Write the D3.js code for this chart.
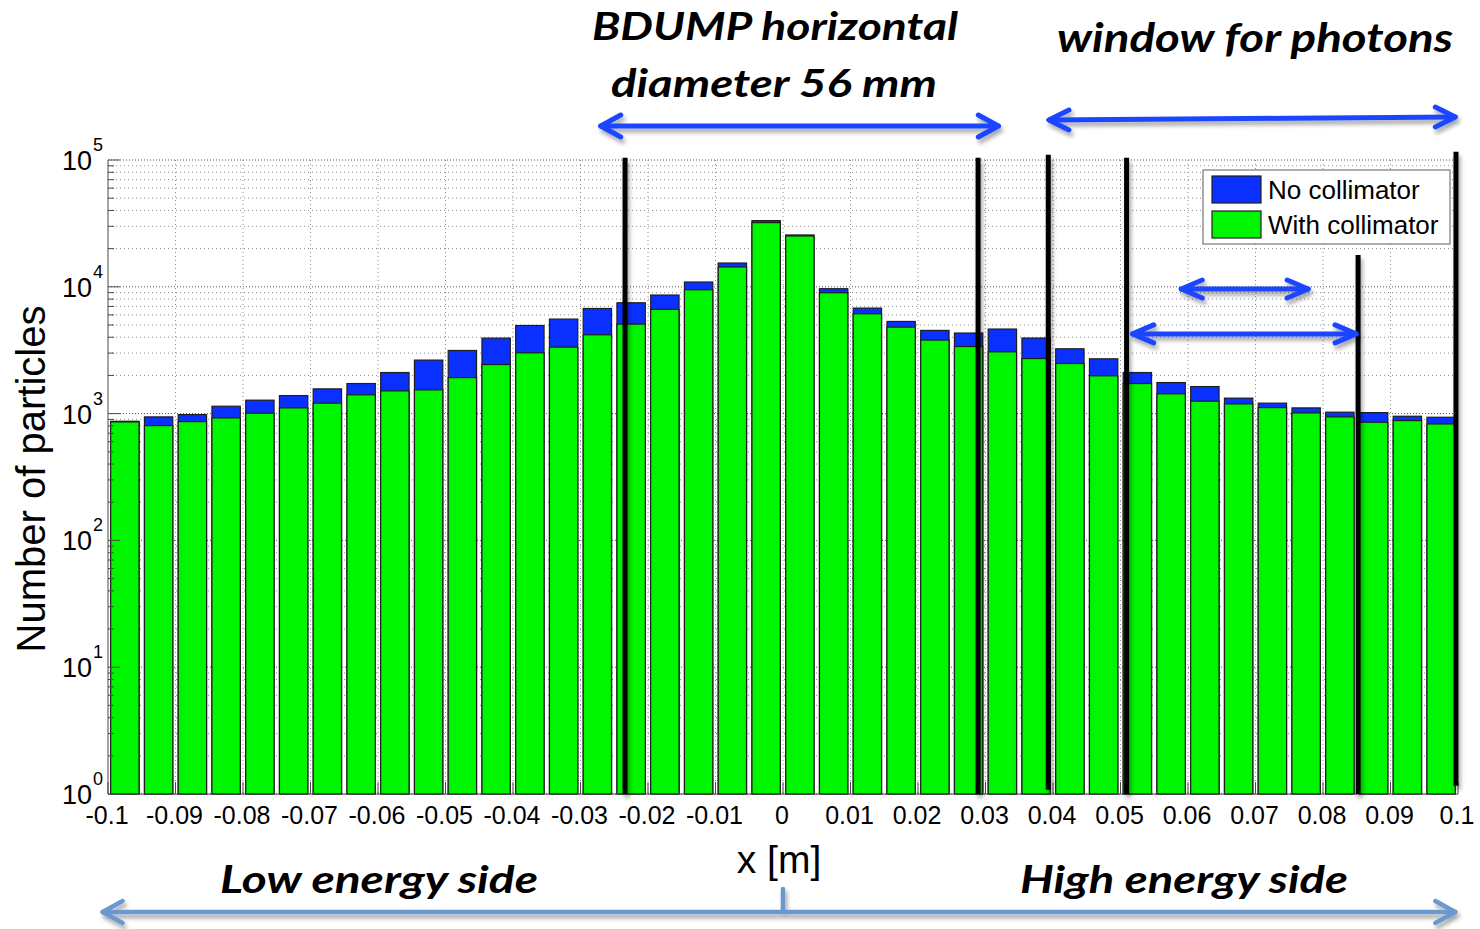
<!DOCTYPE html>
<html>
<head>
<meta charset="utf-8">
<script src="https://cdn.jsdelivr.net/npm/d3@7"></script>
<style>
  html, body { margin: 0; padding: 0; background: #fff; }
  svg { display: block; }
</style>
</head>
<body>
<svg id="chart" width="1480" height="929"></svg>
<script>
// Horizontal bins (bin centres, m)
const binCenters = [
  -0.0975, -0.0925, -0.0875, -0.0825, -0.0775, -0.0725, -0.0675, -0.0625, -0.0575, -0.0525,
  -0.0475, -0.0425, -0.0375, -0.0325, -0.0275, -0.0225, -0.0175, -0.0125, -0.0075, -0.0025,
   0.0025,  0.0075,  0.0125,  0.0175,  0.0225,  0.0275,  0.0325,  0.0375,  0.0425,  0.0475,
   0.0525,  0.0575,  0.0625,  0.0675,  0.0725,  0.0775,  0.0825,  0.0875,  0.0925,  0.0975
];
const binWidth = 0.005;

// Particle counts per bin
const noCollimator = [
   870,   942,   982,  1143,  1276,  1387,  1567,  1726,  2108,  2642,
  3147,  3939,  4954,  5563,  6745,  7483,  8610, 10910, 15400, 33270,
 25630,  9660,  6790,  5330,  4530,  4320,  4643,  3945,  3245,  2704,
  2108,  1758,  1634,  1324,  1209,  1109,  1026,  1018,   953,   936
];
const withCollimator = [
   860,   804,   865,   925,  1007,  1109,  1209,  1406,  1511,  1539,
  1923,  2437,  3015,  3345,  4185,  5079,  6633,  9485, 14330, 32060,
 25160,  8980,  6130,  4810,  3800,  3380,  3070,  2717,  2484,  1986,
  1726,  1432,  1253,  1193,  1115,  1013,   942,   855,   881,   829
];
const seriesNames = ["No collimator", "With collimator"];

// Axis ticks
const xTickValues = [-0.1, -0.09, -0.08, -0.07, -0.06, -0.05, -0.04, -0.03, -0.02, -0.01,
                     0, 0.01, 0.02, 0.03, 0.04, 0.05, 0.06, 0.07, 0.08, 0.09, 0.1];
const xTickLabels = ["-0.1", "-0.09", "-0.08", "-0.07", "-0.06", "-0.05", "-0.04", "-0.03", "-0.02", "-0.01",
                     "0", "0.01", "0.02", "0.03", "0.04", "0.05", "0.06", "0.07", "0.08", "0.09", "0.1"];
const yDecadeExponents = [0, 1, 2, 3, 4, 5];

// Vertical marker lines: x position (m), top and bottom (counts)
const markerX      = [-0.0234, 0.0289, 0.0393, 0.0509, 0.0852, 0.0997];
const markerTop    = [1.04e5, 1.04e5, 1.1e5, 1.04e5, 1.78e4, 1.16e5];
const markerBottom = [1.0, 1.0, 1.08, 1.0, 1.0, 1.16];

const BAR_BLUE = "#0a30ff";
const BAR_GREEN = "#00f500";
const ARROW_BLUE = "#1c45ff";
const STEEL = "#6a98cf";

const svg = d3.select("#chart");
const plot = { left: 108, right: 1458, top: 160, bottom: 794 };

const x = d3.scaleLinear().domain([-0.1, 0.1]).range([plot.left, plot.right]);
const y = d3.scaleLog().domain([1, 1e5]).range([plot.bottom, plot.top]);

// drop-shadow used for the overlaid annotations
const defs = svg.append("defs");
const sh = defs.append("filter").attr("id", "shadow")
  .attr("x", "-10%").attr("y", "-60%").attr("width", "130%").attr("height", "260%");
sh.append("feDropShadow").attr("dx", 2).attr("dy", 4).attr("stdDeviation", 2.2)
  .attr("flood-color", "#000").attr("flood-opacity", 0.35);

// ---- grid ----
const grid = svg.append("g");
const minorVals = [];
for (let e = 0; e < 5; e++) for (let m = 2; m <= 9; m++) minorVals.push(m * Math.pow(10, e));
grid.selectAll("line.minor").data(minorVals).join("line")
  .attr("x1", plot.left).attr("x2", plot.right)
  .attr("y1", d => y(d)).attr("y2", d => y(d))
  .attr("stroke", "#8a8a8a").attr("stroke-width", 1).attr("stroke-dasharray", "1,3");
grid.selectAll("line.major").data(yDecadeExponents).join("line")
  .attr("x1", plot.left).attr("x2", plot.right)
  .attr("y1", d => y(Math.pow(10, d))).attr("y2", d => y(Math.pow(10, d)))
  .attr("stroke", "#555").attr("stroke-width", 1).attr("stroke-dasharray", "1,2");
grid.selectAll("line.vx").data(xTickValues.slice(1, -1)).join("line")
  .attr("x1", d => x(d)).attr("x2", d => x(d))
  .attr("y1", plot.top).attr("y2", plot.bottom)
  .attr("stroke", "#8a8a8a").attr("stroke-width", 1).attr("stroke-dasharray", "1,3");

// ---- bars (overlaid) ----
const halfW = binWidth * 0.42;
const bars = svg.append("g");
function drawSeries(vals, color) {
  bars.append("g").selectAll("rect").data(vals).join("rect")
    .attr("x", (d, i) => x(binCenters[i] - halfW))
    .attr("width", (d, i) => x(binCenters[i] + halfW) - x(binCenters[i] - halfW))
    .attr("y", d => y(d))
    .attr("height", d => y(1) - y(d))
    .attr("fill", color)
    .attr("stroke", "#1e1e1e").attr("stroke-width", 1.2);
}
drawSeries(noCollimator, BAR_BLUE);
drawSeries(withCollimator, BAR_GREEN);

// ---- axes ----
const axes = svg.append("g").attr("stroke", "#4a4a4a").attr("stroke-width", 1);
axes.append("line").attr("x1", plot.left).attr("x2", plot.left).attr("y1", plot.top).attr("y2", plot.bottom);
axes.append("line").attr("x1", plot.left).attr("x2", plot.right).attr("y1", plot.bottom).attr("y2", plot.bottom);
axes.selectAll("line.yt").data(yDecadeExponents).join("line")
  .attr("x1", plot.left).attr("x2", plot.left + 12)
  .attr("y1", d => y(Math.pow(10, d))).attr("y2", d => y(Math.pow(10, d)));
axes.selectAll("line.ym").data(minorVals).join("line")
  .attr("x1", plot.left).attr("x2", plot.left + 6)
  .attr("y1", d => y(d)).attr("y2", d => y(d));
axes.selectAll("line.xt").data(xTickValues).join("line")
  .attr("x1", d => x(d)).attr("x2", d => x(d))
  .attr("y1", plot.bottom).attr("y2", plot.bottom - 12);

// tick labels
const lbl = svg.append("g").attr("font-family", "'Liberation Sans', Arial, sans-serif").attr("fill", "#000");
lbl.selectAll("text.xl").data(xTickValues).join("text")
  .attr("x", d => x(d) - 1).attr("y", 824)
  .attr("text-anchor", "middle").attr("font-size", 25)
  .text((d, i) => xTickLabels[i]);
const yl = lbl.selectAll("g.yl").data(yDecadeExponents).join("g")
  .attr("transform", d => `translate(0, ${y(Math.pow(10, d))})`);
yl.append("text").attr("x", 92).attr("y", 10).attr("text-anchor", "end").attr("font-size", 27).text("10");
yl.append("text").attr("x", 93).attr("y", -9).attr("font-size", 18).text(d => d);

// axis titles
lbl.append("text").attr("x", 779).attr("y", 873).attr("text-anchor", "middle")
  .attr("font-size", 39).text("x [m]");
lbl.append("text").attr("transform", "translate(45, 479) rotate(-90)")
  .attr("text-anchor", "middle").attr("font-size", 40).text("Number of particles");

// ---- vertical marker lines ----
svg.append("g").attr("filter", "url(#shadow)")
  .selectAll("line").data(markerX).join("line")
  .attr("x1", d => x(d)).attr("x2", d => x(d))
  .attr("y1", (d, i) => y(markerTop[i])).attr("y2", (d, i) => y(markerBottom[i]))
  .attr("stroke", "#000").attr("stroke-width", 5);

// ---- double-headed arrows ----
function doubleArrow(g, x1, y1, x2, y2, color, w, armX, armY) {
  const a = g.append("g").attr("filter", "url(#shadow)")
    .attr("stroke", color).attr("stroke-width", w).attr("fill", "none")
    .attr("stroke-linecap", "round").attr("stroke-linejoin", "round");
  a.append("line").attr("x1", x1).attr("y1", y1).attr("x2", x2).attr("y2", y2);
  a.append("path").attr("d", `M${x1 + armX},${y1 - armY} L${x1},${y1} L${x1 + armX},${y1 + armY}`);
  a.append("path").attr("d", `M${x2 - armX},${y2 - armY} L${x2},${y2} L${x2 - armX},${y2 + armY}`);
  return a;
}
const ann = svg.append("g");
doubleArrow(ann, x(-0.0270), 126, x(0.0319), 126, ARROW_BLUE, 5, 20, 11);
doubleArrow(ann, x(0.0394), 120, x(0.0996), 117, ARROW_BLUE, 5, 20, 10);
doubleArrow(ann, x(0.0590), y(9600), x(0.0778), y(9600), ARROW_BLUE, 5, 21, 9);
doubleArrow(ann, x(0.0518), y(4250), x(0.0849), y(4250), ARROW_BLUE, 5, 21, 9);
const bottomArrow = doubleArrow(ann, x(-0.1008), 912, x(0.0996), 912, STEEL, 4.5, 20, 11);
bottomArrow.append("line").attr("x1", x(0)).attr("x2", x(0)).attr("y1", 889).attr("y2", 912);

// ---- annotation text ----
const note = svg.append("g")
  .attr("font-family", "Lato, 'Open Sans', sans-serif")
  .attr("font-weight", 700).attr("font-style", "italic").attr("fill", "#000")
  .attr("text-anchor", "middle");
function noteText(str, cx, base, size, len) {
  note.append("text").attr("x", cx).attr("y", base).attr("font-size", size)
    .attr("textLength", len).attr("lengthAdjust", "spacingAndGlyphs").text(str);
}
noteText("BDUMP horizontal", 775, 40, 39, 366);
noteText("diameter 56 mm", 774, 97, 39, 326);
noteText("window for photons", 1255, 52, 40, 396);
noteText("Low energy side", 379, 893, 38, 318);
noteText("High energy side", 1184, 893, 38, 328);

// ---- legend ----
const leg = svg.append("g");
leg.append("rect").attr("x", 1203).attr("y", 170).attr("width", 247).attr("height", 74)
  .attr("fill", "#fff").attr("stroke", "#777").attr("stroke-width", 1.2);
const legItems = leg.selectAll("g.item").data(seriesNames).join("g")
  .attr("transform", (d, i) => `translate(1212, ${176 + i * 35})`);
legItems.append("rect").attr("width", 49).attr("height", 27)
  .attr("fill", (d, i) => i === 0 ? BAR_BLUE : BAR_GREEN)
  .attr("stroke", "#1e1e1e").attr("stroke-width", 1.2);
legItems.append("text").attr("x", 56).attr("y", 23)
  .attr("font-family", "'Liberation Sans', Arial, sans-serif").attr("font-size", 26)
  .attr("fill", "#000").text(d => d);
</script>
</body>
</html>
